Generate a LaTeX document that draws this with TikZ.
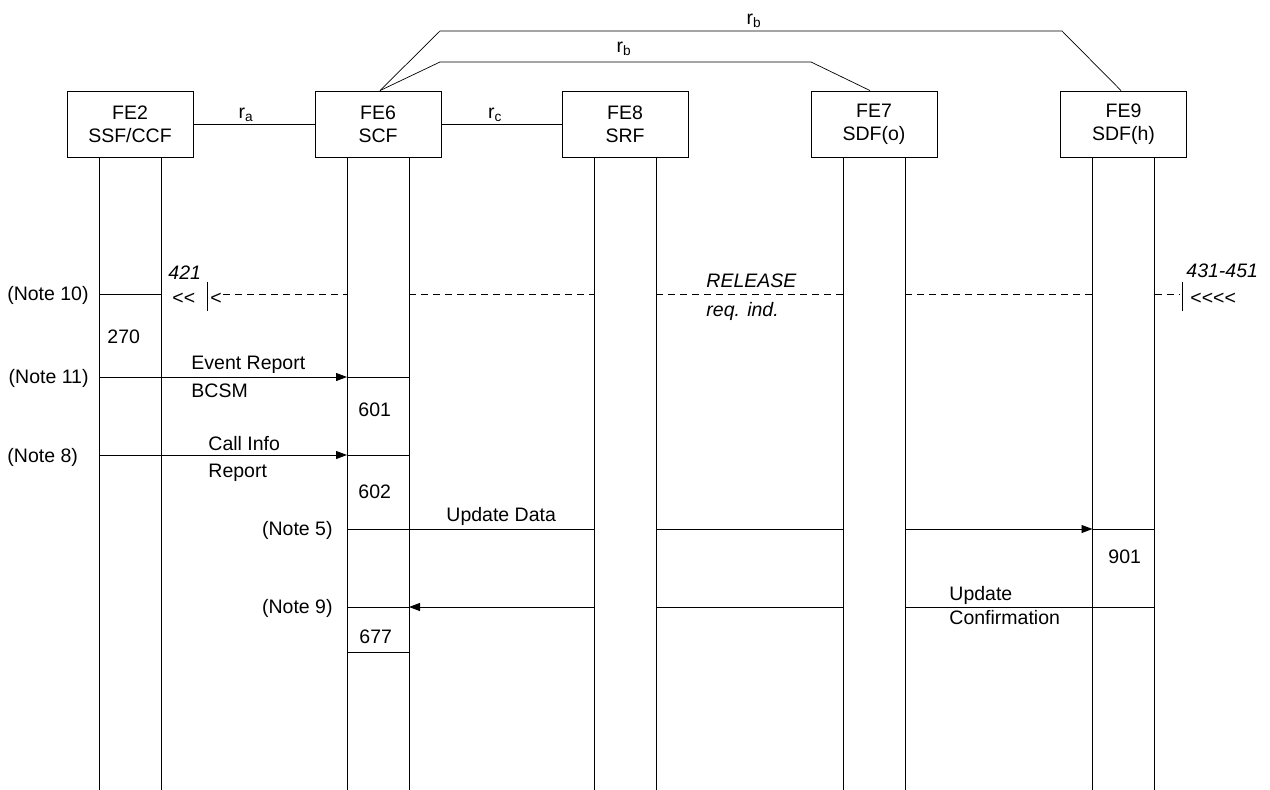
\documentclass[tikz,border=0pt]{standalone}
\usepackage{fontspec}
\setmainfont{Liberation Sans}
\usetikzlibrary{arrows.meta}
\newcommand\dgfont{\fontsize{19.5}{23}\selectfont}
\newcommand\lsign{<\kern0pt}
\begin{document}
\begin{tikzpicture}[x=1pt,y=-1pt,line width=0.9pt,
  fe/.style={draw,minimum width=126pt,minimum height=66pt,align=center,inner sep=0pt,font=\dgfont},
  lbl/.style={inner sep=0pt,font=\dgfont,anchor=base west},
  lblc/.style={inner sep=0pt,font=\dgfont,anchor=base},
  lble/.style={inner sep=0pt,font=\dgfont,anchor=base east},
  ital/.style={inner sep=0pt,font=\dgfont\itshape,anchor=base west},
  arr/.style={-{Triangle[length=11pt,width=8pt]}},
  dsh/.style={dash pattern=on 7pt off 5pt},
  thinl/.style={line width=0.7pt}]
\useasboundingbox (0,0) rectangle (1270,790);
% boxes
\node[fe] (fe2) at (130,124) {FE2\\SSF/CCF};
\node[fe] (fe6) at (378,124) {FE6\\SCF};
\node[fe] (fe8) at (625,124) {FE8\\SRF};
\node[fe] (fe7) at (874,124) {FE7\\SDF(o)};
\node[fe] (fe9) at (1123.5,124) {FE9\\SDF(h)};
% lifelines
\foreach \n in {2,6,8,7,9}{
  \coordinate (l\n a) at ([xshift=-31pt]fe\n.south);
  \coordinate (l\n b) at ([xshift=31pt]fe\n.south);
  \coordinate (e\n a) at (l\n a|-0,790);
  \coordinate (e\n b) at (l\n b|-0,790);
  \draw (l\n a) -- (e\n a);
  \draw (l\n b) -- (e\n b);
}
% interfaces
\draw (fe2.east) -- (fe6.west);
\draw (fe6.east) -- (fe8.west);
\node[lblc] (ra) at (246,118) {r\textsubscript{a}};
\node[lblc] (rc) at (495,118) {r\textsubscript{c}};
\coordinate (rbs) at ([xshift=2pt]fe6.north);
\coordinate (rb1a) at (440,62);
\coordinate (rb1b) at (811,62);
\coordinate (rb1e) at ([xshift=-4pt]fe7.north);
\coordinate (rb2a) at (440,31);
\coordinate (rb2b) at (1062,31);
\coordinate (rb2e) at ([xshift=-2.5pt]fe9.north);
\draw[thinl] (rbs) -- (rb1a) -- (rb1b) -- (rb1e);
\draw[thinl] (rbs) -- (rb2a) -- (rb2b) -- (rb2e);
\node[lblc] (rb1) at (624,52) {r\textsubscript{b}};
\node[lblc] (rb2) at (754,24) {r\textsubscript{b}};
% release
\draw (l2a|-0,294) -- (l2b|-0,294);
\node[lble] (n10) at (89,300) {(Note 10)};
\node[ital] (t421) at (168,279) {421};
\node[lbl] (ll) at (172,304) {\lsign\lsign};
\coordinate (bar1t) at (207,282);
\coordinate (bar1b) at (207,311);
\draw[thinl] (bar1t) -- (bar1b);
\node[lbl] (lt) at (210,304) {\lsign};
\coordinate (d0) at (223,294);
\draw[thinl,dsh] (d0) -- (l6a|-0,294);
\draw[thinl,dsh] (l6b|-0,294) -- (l8a|-0,294);
\draw[thinl,dsh] (l8b|-0,294) -- (l7a|-0,294);
\draw[thinl,dsh] (l7b|-0,294) -- (l9a|-0,294);
\coordinate (d9) at (1180,294);
\draw[thinl,dsh] (l9b|-0,294) -- (d9);
\coordinate (bar2t) at (1182,282);
\coordinate (bar2b) at (1182,311);
\draw[thinl] (bar2t) -- (bar2b);
\node[ital] (t431) at (1186,277) {431-451};
\node[lbl] (llll) at (1190,304) {\lsign\lsign\lsign\lsign};
\node[ital] (rel) at (706,287) {RELEASE};
\node[ital] (req) at (706,316) {req. ind.};
\node[lbl] (t270) at (107,343) {270};
% event report
\draw[arr] (l2a|-0,377) -- (l6a|-0,377);
\draw (l6a|-0,377) -- (l6b|-0,377);
\node[lble] (n11) at (89,383) {(Note 11)};
\node[lbl] (er) at (191,369) {Event Report};
\node[lbl] (bcsm) at (191,397) {BCSM};
\node[lbl] (t601) at (358,416) {601};
% call info
\draw[arr] (l2a|-0,455) -- (l6a|-0,455);
\draw (l6a|-0,455) -- (l6b|-0,455);
\node[lbl] (n8) at (7,462) {(Note 8)};
\node[lbl] (ci) at (208,450) {Call Info};
\node[lbl] (rep) at (208,477) {Report};
\node[lbl] (t602) at (358,498) {602};
% update data
\draw (l6a|-0,529) -- (l8a|-0,529);
\draw (l8b|-0,529) -- (l7a|-0,529);
\draw[arr] (l7b|-0,529) -- (l9a|-0,529);
\draw (l9a|-0,529) -- (l9b|-0,529);
\node[lble] (n5) at (333,535) {(Note 5)};
\node[lbl] (ud) at (446,521) {Update Data};
\node[lbl] (t901) at (1108,563) {901};
% update confirmation
\draw (l6a|-0,607) -- (l6b|-0,607);
\draw[arr] (l8a|-0,607) -- (l6b|-0,607);
\draw (l8b|-0,607) -- (l7a|-0,607);
\draw (l7b|-0,607) -- (l9b|-0,607);
\node[lble] (n9) at (333,613) {(Note 9)};
\node[lbl] (upd) at (949,600) {Update};
\node[lbl] (conf) at (949,624) {Confirmation};
\node[lbl] (t677) at (359,643) {677};
\draw (l6a|-0,652) -- (l6b|-0,652);
\end{tikzpicture}
\end{document}
